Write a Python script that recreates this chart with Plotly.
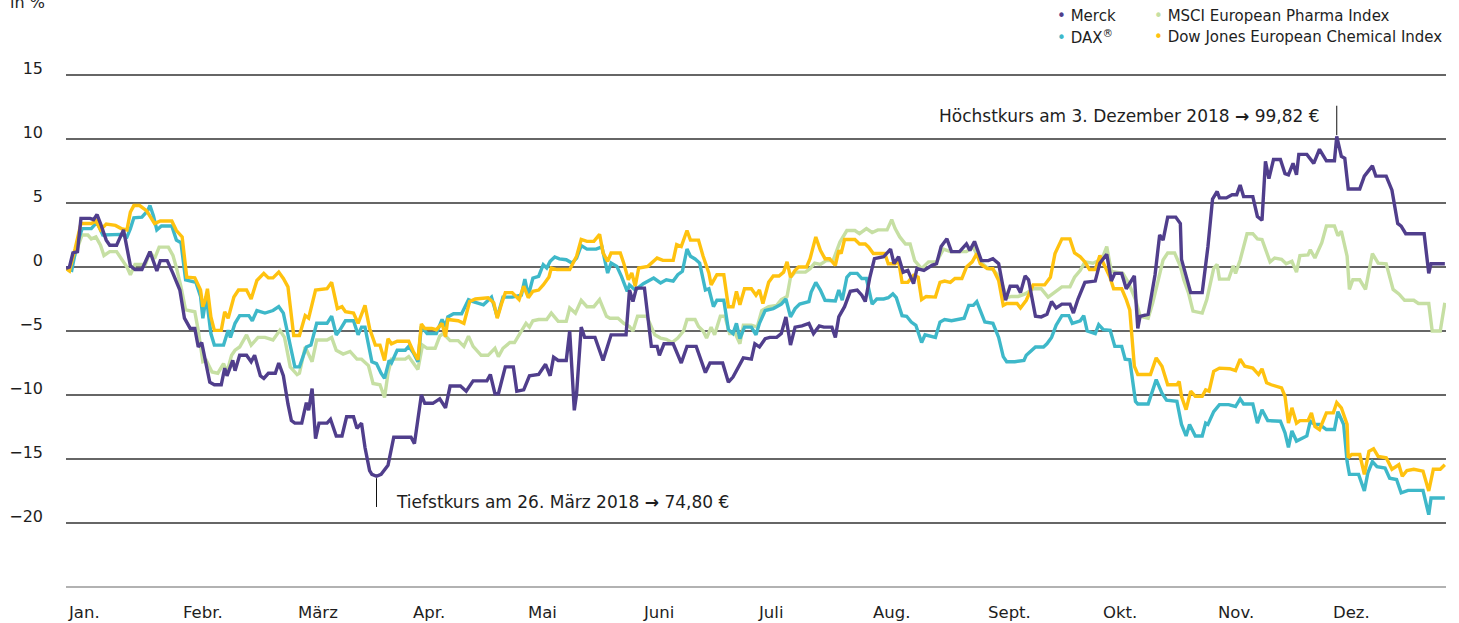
import plotly.graph_objects as go

# ---------------- data (x = position in months, 0 = 1 Jan, 12 = 31 Dec; y = change in %) ----------------
months = ["Jan.", "Febr.", "März", "Apr.", "Mai", "Juni", "Juli", "Aug.", "Sept.", "Okt.", "Nov.", "Dez."]
y_ticks = [15, 10, 5, 0, -5, -10, -15, -20]
y_tick_text = ["15", "10", "5", "0", "\u22125", "\u221210", "\u221215", "\u221220"]
y_bottom = -25

merck_x = [0.00, 0.03, 0.06, 0.10, 0.13, 0.21, 0.24, 0.27, 0.30, 0.35, 0.38, 0.44, 0.50, 0.56, 0.60, 0.66, 0.73, 0.79, 0.82, 0.88,
           0.93, 0.99, 1.03, 1.08, 1.12, 1.15, 1.18, 1.22, 1.25, 1.29, 1.35, 1.38, 1.40, 1.45, 1.47, 1.51, 1.57, 1.61, 1.64, 1.69,
           1.72, 1.76, 1.82, 1.85, 1.89, 1.93, 1.96, 1.99, 2.05, 2.09, 2.11, 2.14, 2.17, 2.20, 2.27, 2.30, 2.35, 2.40, 2.44, 2.50,
           2.53, 2.57, 2.60, 2.64, 2.66, 2.70, 2.74, 2.80, 2.85, 2.88, 3.00, 3.03, 3.09, 3.12, 3.19, 3.25, 3.30, 3.34, 3.43, 3.48,
           3.54, 3.66, 3.69, 3.73, 3.76, 3.82, 3.89, 3.92, 3.98, 4.03, 4.11, 4.17, 4.21, 4.24, 4.28, 4.35, 4.38, 4.42, 4.44, 4.48,
           4.51, 4.60, 4.67, 4.74, 4.87, 4.90, 4.93, 4.96, 5.03, 5.09, 5.14, 5.16, 5.20, 5.28, 5.35, 5.40, 5.48, 5.56, 5.60, 5.71,
           5.76, 5.80, 5.89, 5.96, 5.99, 6.03, 6.08, 6.12, 6.18, 6.22, 6.26, 6.30, 6.34, 6.40, 6.46, 6.50, 6.55, 6.59, 6.66, 6.69,
           6.72, 6.77, 6.82, 6.88, 6.92, 6.95, 6.99, 7.03, 7.11, 7.17, 7.20, 7.24, 7.28, 7.32, 7.37, 7.40, 7.46, 7.53, 7.57, 7.61,
           7.66, 7.70, 7.77, 7.83, 7.86, 7.90, 7.96, 8.02, 8.06, 8.11, 8.17, 8.21, 8.27, 8.30, 8.34, 8.37, 8.43, 8.48, 8.53, 8.57,
           8.61, 8.66, 8.73, 8.76, 8.80, 8.86, 8.95, 8.99, 9.05, 9.09, 9.12, 9.18, 9.22, 9.29, 9.32, 9.34, 9.41, 9.47, 9.51, 9.54,
           9.58, 9.65, 9.69, 9.70, 9.74, 9.78, 9.88, 9.93, 9.97, 10.01, 10.03, 10.09, 10.14, 10.18, 10.21, 10.24, 10.32, 10.36, 10.40, 10.43,
           10.46, 10.50, 10.56, 10.60, 10.63, 10.67, 10.70, 10.72, 10.79, 10.85, 10.90, 10.96, 11.03, 11.05, 11.09, 11.12, 11.15, 11.25, 11.29, 11.32,
           11.36, 11.39, 11.48, 11.53, 11.58, 11.61, 11.65, 11.81, 11.85, 11.87, 11.99]
merck_y = [-0.1, 0.0, 1.1, 1.2, 3.8, 3.8, 3.7, 4.1, 3.4, 2.1, 1.7, 1.7, 2.9, 0.1, -0.2, -0.2, 1.2, -0.3, 0.5, 0.5,
           -0.5, -1.8, -4.0, -4.8, -4.8, -6.25, -5.9, -7.6, -9.0, -9.2, -9.2, -7.9, -8.5, -7.3, -8.1, -6.9, -6.9, -7.4, -6.9, -8.5,
           -8.7, -8.3, -8.3, -7.5, -8.5, -10.7, -12.0, -12.2, -12.2, -10.6, -11.2, -9.5, -13.4, -12.2, -12.2, -11.9, -13.2, -13.2, -11.7, -11.7,
           -12.6, -12.2, -14.1, -15.9, -16.2, -16.35, -16.2, -15.5, -13.3, -13.3, -13.3, -13.8, -10.0, -10.65, -10.65, -10.3, -11.0, -9.3, -9.3, -9.7,
           -8.9, -8.9, -8.4, -9.9, -9.9, -7.8, -7.8, -9.7, -9.6, -8.5, -8.4, -7.6, -8.5, -7.05, -7.3, -7.3, -5.0, -11.2, -9.9, -4.7,
           -5.5, -5.5, -7.3, -5.3, -5.3, -1.8, -2.7, -1.65, -1.65, -6.2, -6.2, -6.9, -6.0, -6.0, -7.5, -6.2, -6.2, -8.25, -7.5, -7.5,
           -9.0, -8.6, -7.1, -7.2, -6.0, -6.25, -5.6, -5.5, -5.5, -5.2, -3.9, -6.1, -4.7, -4.6, -4.4, -5.2, -4.6, -4.7, -4.7, -5.5,
           -3.9, -3.1, -1.9, -1.8, -2.2, -2.7, -0.8, 0.65, 0.8, 1.4, 0.26, 0.8, -0.4, -0.26, -1.3, -0.13, -0.26, 0.13, 0.26, 1.6,
           2.2, 1.2, 1.2, 1.8, 1.3, 2.0, 0.5, 0.5, 0.65, 0.26, -2.6, -1.5, -1.5, -2.0, -0.7, -1.0, -3.85, -3.9, -3.7, -2.7,
           -3.2, -2.9, -2.9, -3.6, -2.5, -1.2, -1.1, 0.3, 1.0, -1.1, -0.5, -0.5, -1.7, -0.7, -4.8, -3.85, -3.7, -0.6, 2.5, 2.1,
           3.9, 3.9, 3.4, 0.6, -0.7, -2.0, -2.0, 1.6, 5.3, 5.9, 5.4, 5.4, 5.65, 5.65, 6.4, 5.5, 5.5, 3.95, 3.65, 8.25,
           6.9, 8.4, 8.4, 7.3, 7.2, 8.1, 7.2, 8.8, 8.8, 8.1, 9.2, 8.3, 8.3, 10.2, 8.65, 8.5, 6.1, 6.1, 7.1, 7.4,
           7.9, 7.1, 7.1, 6.0, 3.4, 3.2, 2.6, 2.6, -0.5, 0.26, 0.26]

dax_x = [0.00, 0.05, 0.09, 0.14, 0.22, 0.27, 0.32, 0.48, 0.53, 0.56, 0.59, 0.66, 0.71, 0.73, 0.76, 0.79, 0.83, 0.92, 0.96, 1.00,
         1.04, 1.13, 1.17, 1.19, 1.22, 1.26, 1.29, 1.37, 1.41, 1.43, 1.47, 1.51, 1.59, 1.62, 1.66, 1.73, 1.80, 1.85, 1.89, 1.95,
         1.99, 2.03, 2.09, 2.13, 2.18, 2.27, 2.31, 2.35, 2.38, 2.43, 2.50, 2.54, 2.57, 2.60, 2.66, 2.70, 2.74, 2.77, 2.81, 2.83,
         2.88, 2.95, 2.98, 3.02, 3.06, 3.09, 3.14, 3.22, 3.27, 3.30, 3.32, 3.37, 3.44, 3.50, 3.54, 3.63, 3.70, 3.75, 3.80, 3.88,
         3.92, 3.96, 3.99, 4.02, 4.06, 4.11, 4.15, 4.18, 4.21, 4.25, 4.29, 4.35, 4.40, 4.44, 4.48, 4.53, 4.61, 4.66, 4.71, 4.74,
         4.79, 4.83, 4.88, 4.90, 4.95, 5.02, 5.11, 5.17, 5.22, 5.28, 5.32, 5.36, 5.40, 5.43, 5.47, 5.51, 5.56, 5.59, 5.63, 5.66,
         5.72, 5.76, 5.80, 5.83, 5.86, 5.90, 5.96, 6.00, 6.03, 6.08, 6.15, 6.22, 6.26, 6.30, 6.34, 6.38, 6.46, 6.48, 6.52, 6.56,
         6.60, 6.69, 6.72, 6.75, 6.79, 6.82, 6.88, 6.92, 6.96, 6.98, 7.01, 7.05, 7.11, 7.15, 7.19, 7.22, 7.27, 7.31, 7.35, 7.39,
         7.44, 7.47, 7.56, 7.60, 7.64, 7.70, 7.76, 7.81, 7.85, 7.89, 7.92, 7.95, 7.99, 8.06, 8.11, 8.15, 8.18, 8.25, 8.30, 8.33,
         8.35, 8.39, 8.43, 8.50, 8.53, 8.57, 8.61, 8.66, 8.72, 8.75, 8.82, 8.85, 8.88, 8.95, 8.98, 9.02, 9.08, 9.12, 9.18, 9.21,
         9.25, 9.30, 9.32, 9.41, 9.48, 9.53, 9.57, 9.66, 9.70, 9.74, 9.77, 9.82, 9.88, 9.91, 9.93, 9.98, 10.03, 10.11, 10.17, 10.21,
         10.24, 10.32, 10.36, 10.40, 10.45, 10.56, 10.60, 10.63, 10.66, 10.70, 10.79, 10.82, 10.86, 10.90, 10.96, 11.03, 11.06, 11.11, 11.14, 11.16,
         11.24, 11.29, 11.32, 11.36, 11.40, 11.47, 11.51, 11.57, 11.61, 11.67, 11.80, 11.85, 11.87, 11.99]
dax_y = [-0.1, -0.26, 1.6, 3.0, 3.0, 3.5, 2.5, 2.55, 2.35, 3.0, 3.85, 3.9, 4.4, 4.8, 4.0, 2.9, 3.2, 3.2, 2.1, 1.9,
         -1.0, -1.2, -2.3, -4.0, -2.3, -5.2, -6.1, -6.1, -4.95, -5.5, -4.4, -3.8, -3.8, -4.2, -3.4, -3.6, -3.4, -3.1, -3.6, -6.25,
         -7.8, -7.8, -6.25, -6.1, -4.4, -4.4, -3.85, -5.3, -4.95, -4.2, -4.2, -5.3, -4.7, -4.7, -7.4, -7.55, -8.3, -8.7, -7.3, -7.5,
         -6.5, -6.5, -6.2, -6.7, -7.4, -4.65, -5.2, -5.2, -4.1, -4.65, -3.9, -3.65, -3.65, -2.55, -2.7, -2.95, -2.35, -3.9, -2.35, -2.35,
         -2.3, -2.2, -0.94, -2.25, -0.86, -0.73, 0.18, -0.08, 0.44, 0.78, 0.63, 0.57, 0.31, 0.7, 1.67, 1.4, 1.4, 1.57, -0.47, 0.31,
         0.05, -0.73, -1.9, -1.4, -1.8, -1.3, -0.86, -1.25, -1.0, -1.1, -0.6, -0.34, 1.4, 0.84, 0.63, 0.31, -1.8, -1.7, -3.1, -2.6,
         -2.6, -4.9, -5.2, -4.4, -5.6, -4.7, -4.7, -5.3, -4.4, -3.4, -3.25, -2.9, -2.5, -3.9, -3.25, -2.9, -2.7, -1.95, -1.2, -1.8,
         -2.6, -2.65, -1.8, -2.6, -0.8, -0.5, -0.5, -0.9, -0.9, -1.6, -2.9, -2.5, -2.5, -2.4, -2.1, -2.4, -3.8, -3.85, -4.3, -4.55,
         -5.9, -5.3, -5.5, -4.3, -4.1, -4.2, -4.1, -4.0, -3.0, -3.0, -2.7, -3.4, -4.3, -4.4, -5.5, -7.0, -7.4, -7.4, -7.3, -7.3,
         -6.9, -6.6, -6.25, -6.25, -6.0, -5.5, -4.55, -3.8, -3.8, -4.4, -4.2, -3.8, -5.0, -5.2, -4.5, -4.9, -4.95, -6.2, -6.2, -7.2,
         -7.25, -10.5, -10.7, -10.7, -8.8, -9.85, -10.4, -10.5, -12.3, -13.2, -12.3, -13.2, -13.2, -12.2, -12.3, -11.3, -10.75, -10.75, -10.9, -10.3,
         -10.7, -10.7, -12.2, -11.15, -12.0, -12.05, -12.95, -14.1, -12.8, -13.6, -13.2, -12.05, -12.3, -12.3, -12.7, -12.7, -11.3, -12.3, -15.2, -16.2,
         -16.2, -17.5, -16.1, -15.2, -15.6, -15.7, -16.5, -16.6, -17.65, -17.45, -17.45, -19.35, -18.05, -18.05]

msci_x = [0.00, 0.03, 0.08, 0.14, 0.19, 0.22, 0.26, 0.30, 0.33, 0.38, 0.44, 0.48, 0.53, 0.56, 0.60, 0.69, 0.73, 0.77, 0.81, 0.89,
          0.93, 0.96, 1.00, 1.04, 1.12, 1.15, 1.19, 1.22, 1.27, 1.32, 1.37, 1.40, 1.44, 1.47, 1.51, 1.57, 1.61, 1.67, 1.73, 1.80,
          1.86, 1.90, 1.95, 2.01, 2.03, 2.08, 2.14, 2.18, 2.27, 2.31, 2.35, 2.41, 2.47, 2.53, 2.57, 2.63, 2.67, 2.73, 2.77, 2.80,
          2.83, 2.95, 2.98, 3.02, 3.06, 3.10, 3.14, 3.21, 3.25, 3.28, 3.34, 3.41, 3.46, 3.50, 3.54, 3.61, 3.67, 3.73, 3.76, 3.80,
          3.86, 3.90, 3.98, 4.00, 4.03, 4.06, 4.11, 4.18, 4.22, 4.28, 4.35, 4.38, 4.43, 4.48, 4.53, 4.59, 4.64, 4.70, 4.73, 4.80,
          4.85, 4.90, 4.93, 4.97, 5.05, 5.12, 5.17, 5.22, 5.27, 5.32, 5.37, 5.40, 5.47, 5.50, 5.54, 5.57, 5.61, 5.64, 5.69, 5.73,
          5.77, 5.82, 5.86, 5.89, 5.96, 6.01, 6.05, 6.11, 6.18, 6.22, 6.27, 6.30, 6.34, 6.43, 6.47, 6.51, 6.56, 6.61, 6.67, 6.73,
          6.79, 6.86, 6.90, 6.96, 7.01, 7.06, 7.14, 7.18, 7.21, 7.25, 7.30, 7.34, 7.38, 7.44, 7.50, 7.57, 7.63, 7.69, 7.83, 7.89,
          7.95, 8.02, 8.06, 8.12, 8.18, 8.22, 8.28, 8.34, 8.41, 8.48, 8.54, 8.60, 8.66, 8.73, 8.77, 8.82, 8.86, 8.93, 8.99, 9.02,
          9.05, 9.09, 9.15, 9.19, 9.24, 9.30, 9.34, 9.41, 9.45, 9.50, 9.54, 9.58, 9.64, 9.69, 9.72, 9.76, 9.80, 9.88, 9.92, 9.98,
          10.01, 10.03, 10.11, 10.15, 10.17, 10.21, 10.27, 10.32, 10.36, 10.40, 10.47, 10.51, 10.57, 10.61, 10.66, 10.70, 10.73, 10.80, 10.82, 10.86,
          10.92, 10.96, 11.03, 11.06, 11.09, 11.14, 11.16, 11.19, 11.25, 11.30, 11.36, 11.41, 11.48, 11.54, 11.59, 11.64, 11.72, 11.76, 11.85, 11.88,
          11.95, 11.99]
msci_y = [-0.1, -0.3, 1.0, 2.5, 2.5, 2.2, 2.35, 1.7, 0.9, 1.2, 1.2, 0.65, 0.0, -0.6, 0.2, 0.2, 1.2, 0.65, 1.55, 1.55,
          0.9, -0.05, -1.55, -3.35, -3.5, -4.95, -7.4, -7.3, -8.2, -8.3, -7.55, -8.2, -6.9, -6.5, -6.25, -5.3, -6.1, -5.5, -5.5, -5.7,
          -4.95, -5.5, -7.8, -8.4, -8.3, -6.25, -7.4, -5.7, -5.7, -5.5, -6.5, -6.8, -6.6, -7.2, -7.2, -7.7, -9.1, -9.2, -10.2, -8.3,
          -7.2, -7.2, -7.0, -7.5, -8.0, -6.1, -6.35, -6.35, -5.4, -5.2, -5.75, -5.75, -6.2, -5.4, -6.2, -6.9, -6.9, -6.35, -7.0, -6.35,
          -5.9, -5.9, -4.65, -4.4, -4.7, -4.2, -4.1, -4.1, -3.6, -4.25, -4.25, -3.2, -3.6, -2.6, -3.1, -3.1, -2.55, -3.85, -4.0, -4.0,
          -4.4, -4.65, -5.0, -3.85, -3.85, -5.3, -5.55, -5.65, -5.9, -5.55, -5.0, -4.1, -4.1, -4.65, -5.0, -5.55, -4.7, -5.3, -3.85, -3.85,
          -5.2, -5.2, -6.0, -4.55, -4.55, -4.7, -3.4, -3.1, -3.0, -2.55, -2.3, -0.8, -0.4, -0.4, -0.13, 0.3, 0.2, 0.5, 0.5, 1.95,
          2.85, 2.85, 2.6, 3.0, 2.7, 2.9, 2.9, 3.7, 3.0, 2.35, 1.8, 1.8, 0.5, -0.13, 0.4, 0.4, 1.4, 1.2, 1.2, 1.55,
          0.4, -0.13, -0.2, -0.8, -2.4, -2.3, -2.3, -2.1, -1.7, -1.7, -2.35, -1.95, -1.55, -1.55, -0.8, -0.26, 0.4, 0.3, 0.55, 0.9,
          1.6, -0.35, -0.4, -0.5, -1.25, -2.55, -3.85, -4.0, -2.8, -1.0, 0.55, 1.1, 1.1, 0.05, -1.0, -2.0, -3.45, -3.6, -2.55, -0.1,
          0.2, -0.95, -0.95, 0.1, -0.5, 0.55, 2.6, 2.6, 2.2, 2.15, 0.4, 0.7, 0.6, 0.25, 0.45, -0.4, 0.9, 0.95, 1.35, 0.7,
          1.9, 3.2, 3.2, 2.45, 2.8, 0.85, -1.75, -1.0, -1.0, -1.75, 1.05, 0.3, 0.25, -1.75, -2.1, -2.6, -2.6, -2.85, -2.85, -5.0,
          -5.0, -2.8]

djc_x = [0.00, 0.03, 0.08, 0.13, 0.22, 0.26, 0.30, 0.35, 0.43, 0.48, 0.53, 0.56, 0.59, 0.64, 0.70, 0.73, 0.77, 0.82, 0.92, 0.96,
         1.01, 1.05, 1.12, 1.17, 1.19, 1.21, 1.23, 1.26, 1.29, 1.35, 1.38, 1.41, 1.46, 1.50, 1.57, 1.61, 1.66, 1.72, 1.76, 1.80,
         1.85, 1.89, 1.93, 1.98, 2.03, 2.08, 2.11, 2.17, 2.27, 2.31, 2.36, 2.40, 2.43, 2.50, 2.54, 2.60, 2.64, 2.69, 2.73, 2.77,
         2.80, 2.83, 2.88, 2.95, 2.98, 3.02, 3.06, 3.09, 3.12, 3.18, 3.22, 3.27, 3.30, 3.32, 3.41, 3.46, 3.51, 3.56, 3.67, 3.72,
         3.75, 3.79, 3.82, 3.88, 3.90, 3.94, 3.98, 4.02, 4.06, 4.11, 4.15, 4.20, 4.22, 4.27, 4.38, 4.44, 4.48, 4.53, 4.59, 4.64,
         4.67, 4.71, 4.74, 4.82, 4.85, 4.89, 4.92, 4.95, 4.98, 5.06, 5.14, 5.19, 5.28, 5.31, 5.35, 5.40, 5.43, 5.50, 5.54, 5.59,
         5.61, 5.66, 5.72, 5.76, 5.80, 5.83, 5.86, 5.90, 5.96, 6.00, 6.03, 6.06, 6.11, 6.15, 6.20, 6.24, 6.27, 6.30, 6.34, 6.37,
         6.44, 6.47, 6.52, 6.56, 6.60, 6.64, 6.69, 6.72, 6.74, 6.77, 6.86, 6.90, 6.95, 6.98, 7.02, 7.12, 7.15, 7.21, 7.24, 7.27,
         7.32, 7.37, 7.41, 7.44, 7.48, 7.56, 7.60, 7.64, 7.69, 7.73, 7.79, 7.83, 7.88, 7.92, 7.95, 8.01, 8.06, 8.11, 8.15, 8.18,
         8.27, 8.30, 8.35, 8.38, 8.41, 8.51, 8.56, 8.60, 8.66, 8.73, 8.77, 8.82, 8.86, 8.90, 8.95, 8.99, 9.02, 9.08, 9.11, 9.18,
         9.22, 9.25, 9.29, 9.32, 9.43, 9.45, 9.48, 9.53, 9.58, 9.66, 9.68, 9.70, 9.74, 9.78, 9.82, 9.88, 9.91, 9.94, 9.98, 10.03,
         10.12, 10.17, 10.21, 10.25, 10.32, 10.37, 10.40, 10.44, 10.48, 10.57, 10.60, 10.63, 10.66, 10.70, 10.73, 10.80, 10.83, 10.86, 10.90, 10.93,
         10.96, 11.02, 11.05, 11.09, 11.14, 11.15, 11.18, 11.25, 11.29, 11.33, 11.37, 11.41, 11.48, 11.53, 11.59, 11.62, 11.66, 11.72, 11.80, 11.85,
         11.89, 11.95, 11.99]
djc_y = [-0.1, -0.3, 1.45, 3.4, 3.4, 3.6, 2.9, 3.35, 3.25, 3.0, 2.9, 4.3, 4.8, 4.8, 4.4, 4.0, 3.4, 3.6, 3.6, 2.85,
         2.35, -0.8, -0.85, -1.8, -3.1, -2.6, -1.7, -3.9, -4.95, -4.95, -3.5, -4.0, -2.35, -1.8, -1.8, -2.5, -1.05, -0.5, -0.85, -0.85,
         -0.4, -0.9, -1.55, -5.35, -5.35, -3.8, -4.0, -1.8, -1.7, -1.2, -3.25, -3.1, -3.5, -3.6, -4.4, -3.0, -4.8, -6.1, -6.1, -7.3,
         -5.6, -6.0, -5.8, -5.8, -5.8, -6.6, -7.25, -4.45, -4.8, -4.8, -4.9, -4.4, -5.45, -4.1, -4.2, -4.4, -2.7, -2.5, -2.4, -2.8,
         -4.0, -2.8, -2.0, -2.0, -2.2, -2.55, -1.5, -2.4, -1.9, -1.8, -1.4, -0.78, -0.08, -0.2, -0.2, 0.84, 2.15, 2.0, 2.0, 2.55,
         1.1, 0.44, 1.1, 1.1, 0.3, -1.0, -0.47, -1.5, -0.08, 0.05, 0.7, 0.52, 0.52, 1.75, 1.6, 2.85, 2.1, 2.1, 0.84, -0.47,
         -1.4, -0.6, -0.6, -3.1, -3.1, -1.9, -2.95, -1.7, -1.7, -2.2, -1.8, -2.85, -1.2, -0.7, -0.7, -0.4, 0.4, -0.8, -0.26, 0.0,
         0.0, 0.65, 2.35, 1.3, 0.65, 0.65, 0.13, 1.3, 1.05, 2.15, 2.15, 1.8, 1.8, 1.55, 1.05, 1.05, 0.26, 0.26, 0.5, -1.2,
         -1.2, -0.65, -0.8, -2.55, -2.3, -2.35, -1.2, -1.1, -1.2, -0.9, -0.9, 0.0, 0.4, 1.05, 0.26, -0.13, -0.13, -1.05, -3.0, -2.85,
         -2.85, -3.2, -2.6, -1.95, -1.4, -1.4, -0.8, 1.05, 2.2, 2.2, 1.1, 0.8, 0.4, -0.2, -0.2, 0.9, 0.3, -0.85, -1.7, -1.7,
         -2.55, -3.35, -7.75, -8.4, -8.4, -7.9, -7.1, -7.75, -9.2, -9.2, -8.95, -10.1, -11.15, -9.7, -10.1, -10.1, -9.6, -9.7, -8.15, -7.9,
         -7.95, -8.1, -7.2, -7.75, -7.9, -8.4, -7.95, -9.05, -9.2, -9.45, -10.1, -12.2, -11.0, -12.2, -12.0, -12.0, -11.4, -12.45, -12.7, -12.05,
         -11.4, -11.4, -10.6, -11.0, -12.3, -14.9, -14.65, -14.65, -16.2, -14.4, -14.2, -14.8, -14.9, -15.8, -15.45, -16.35, -15.9, -15.8, -15.95, -17.5,
         -15.8, -15.8, -15.45]

# ---------------- styling ----------------
W, H = 1459, 623
ML, MR, MT, MB = 66, 13, 74, 35
FONT = "DejaVu Sans"
TXT = "#1e1e1e"
C_MERCK = "#503e8c"
C_DAX = "#3eb8c9"
C_MSCI = "#c6dfa3"
C_DJ = "#ffc20f"
GRID = "#666666"


def px_x(px):
    return (px - ML) / (W - ML - MR)


def px_y(py):
    return (H - MB - py) / (H - MT - MB)


fig = go.Figure()
for xs, ys, col, name in [(msci_x, msci_y, C_MSCI, "MSCI European Pharma Index"),
                          (dax_x, dax_y, C_DAX, "DAX®"),
                          (djc_x, djc_y, C_DJ, "Dow Jones European Chemical Index"),
                          (merck_x, merck_y, C_MERCK, "Merck")]:
    fig.add_trace(go.Scatter(x=xs, y=ys, mode="lines", name=name,
                             line=dict(color=col, width=3.4), hoverinfo="skip"))

annotations = []
# month labels, left-aligned at the start of each month
for i, m in enumerate(months):
    annotations.append(dict(x=i, xref="x", y=px_y(612), yref="paper", text=m, showarrow=False,
                            xanchor="left", yanchor="middle", font=dict(family=FONT, size=16.5, color=TXT)))
# unit label (partly above the page edge, as in the original)
annotations.append(dict(x=px_x(8), xref="paper", y=px_y(2), yref="paper", text="in %", showarrow=False,
                        xanchor="left", yanchor="middle", font=dict(family=FONT, size=16, color=TXT)))
# legend
legend_items = [("Merck", C_MERCK, 1055, 16), ("DAX<sup>®</sup>", C_DAX, 1055, 37),
                ("MSCI European Pharma Index", C_MSCI, 1152, 16),
                ("Dow Jones European Chemical Index", C_DJ, 1152, 37)]
for label, col, lx, ly in legend_items:
    annotations.append(dict(x=px_x(lx), xref="paper", y=px_y(ly), yref="paper",
                            text=f'<span style="color:{col}">•</span> {label}', showarrow=False,
                            xanchor="left", yanchor="middle", font=dict(family=FONT, size=15, color=TXT)))

# low / high callouts derived from the Merck series
i_min = min(range(len(merck_y)), key=lambda i: merck_y[i])
i_max = max(range(len(merck_y)), key=lambda i: merck_y[i])
x_min, y_min = merck_x[i_min], merck_y[i_min]
x_max, y_max = merck_x[i_max], merck_y[i_max]

shapes = [
    dict(type="line", xref="paper", yref="y", x0=0, x1=1, y0=y_bottom, y1=y_bottom,
         line=dict(color=GRID, width=1.2)),
    dict(type="line", xref="x", yref="y", x0=x_min, x1=x_min, y0=y_min - 0.15, y1=y_min - 2.4,
         line=dict(color="#111111", width=1)),
    dict(type="line", xref="x", yref="y", x0=x_max, x1=x_max, y0=y_max + 0.1, y1=y_max + 2.4,
         line=dict(color="#111111", width=1)),
]
annotations.append(dict(x=x_min + 0.15, xref="x", y=y_min - 2.0, yref="y",
                        text="Tiefstkurs am 26. März 2018 <b>→</b> 74,80 €", showarrow=False,
                        xanchor="left", yanchor="middle", font=dict(family=FONT, size=17, color=TXT)))
annotations.append(dict(x=x_max - 0.13, xref="x", y=y_max + 1.6, yref="y",
                        text="Höchstkurs am 3. Dezember 2018 <b>→</b> 99,82 €", showarrow=False,
                        xanchor="right", yanchor="middle", font=dict(family=FONT, size=17, color=TXT)))

fig.update_layout(
    width=W, height=H,
    margin=dict(l=ML, r=MR, t=MT, b=MB, pad=0, autoexpand=False),
    paper_bgcolor="white", plot_bgcolor="white",
    showlegend=False,
    font=dict(family=FONT, size=16, color=TXT),
    annotations=annotations, shapes=shapes,
    xaxis=dict(range=[0, 12], showgrid=False, zeroline=False, showline=False,
               showticklabels=False, ticks="", automargin=False),
    yaxis=dict(range=[-25.08, 15.08], tickvals=y_ticks, ticktext=y_tick_text,
               showgrid=True, gridcolor=GRID, gridwidth=1.2, zeroline=False, showline=False,
               ticks="", ticklabelstandoff=22, ticklabelshift=-7, automargin=False,
               tickfont=dict(family=FONT, size=16, color=TXT)),
)

fig.write_html("out.html", config={"displayModeBar": False, "staticPlot": True},
               post_script="document.body.style.margin='0px';document.body.style.overflow='hidden';")
